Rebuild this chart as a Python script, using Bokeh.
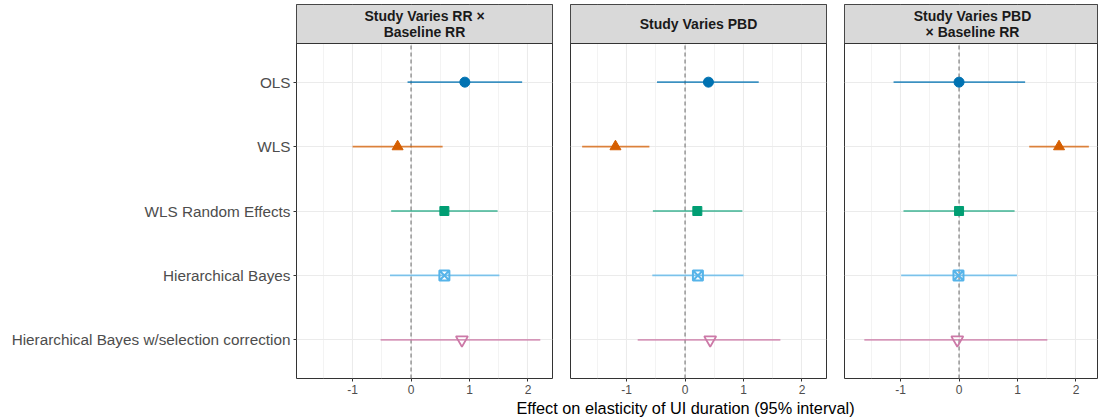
from bokeh.plotting import figure
from bokeh.models import ColumnDataSource, Range1d, FixedTicker
from bokeh.layouts import row, column
from bokeh.embed import file_html
from bokeh.resources import INLINE
from bokeh.core.properties import value

# ---------------- data ----------------
methods = ["OLS", "WLS", "WLS Random Effects", "Hierarchical Bayes",
           "Hierarchical Bayes w/selection correction"]
panel_titles = ["Study Varies RR ×\nBaseline RR", "Study Varies PBD",
                "Study Varies PBD\n× Baseline RR"]
colors = ["#0072B2", "#D55E00", "#009E73", "#56B4E9", "#CC79A7"]
markers = ["circle", "triangle", "square", "square_x", "inverted_triangle"]

est_rr = [0.92, -0.23, 0.57, 0.57, 0.87]
lo_rr = [-0.06, -1.00, -0.34, -0.36, -0.52]
hi_rr = [1.90, 0.54, 1.48, 1.51, 2.21]

est_pbd = [0.40, -1.19, 0.21, 0.22, 0.43]
lo_pbd = [-0.48, -1.76, -0.55, -0.56, -0.81]
hi_pbd = [1.26, -0.61, 0.98, 1.00, 1.63]

est_pbdrr = [0.00, 1.71, 0.00, -0.01, -0.03]
lo_pbdrr = [-1.12, 1.20, -0.95, -0.99, -1.62]
hi_pbdrr = [1.13, 2.22, 0.95, 0.99, 1.51]

x_ticks = [-1, 0, 1, 2]
x_tick_labels = ["-1", "0", "1", "2"]
x_minor = [-1.5, -0.5, 0.5, 1.5]
ref_x = [0]
x_title = "Effect on elasticity of UI duration (95% interval)"

# ---------------- styling ----------------
FONT = "Liberation Sans"
n = len(methods)
ypos = [n - i for i in range(n)]          # OLS at top
y_lo, y_hi = 0.4, n + 0.6
panel_px = 335
header_px = 39
unit = panel_px / (y_hi - y_lo)
y_top = y_hi + header_px / unit

all_lo = min(lo_rr + lo_pbd + lo_pbdrr)
all_hi = max(hi_rr + hi_pbd + hi_pbdrr)
pad = 0.05 * (all_hi - all_lo)
x_start, x_end = all_lo - pad, all_hi + pad

fill_alpha = [1, 1, 1, 0, 0]
line_w = [1, 1, 1, 2, 1.8]
sizes = [10, 11, 9, 10, 12]

panels = [(est_rr, lo_rr, hi_rr), (est_pbd, lo_pbd, hi_pbd),
          (est_pbdrr, lo_pbdrr, hi_pbdrr)]

FW = 256
figs = []
for k, (est, lo, hi) in enumerate(panels):
    first = k == 0
    last = k == len(panels) - 1
    fw = 253 if last else FW
    xe = x_start + (x_end - x_start) * fw / FW
    p = figure(frame_width=fw, frame_height=panel_px + header_px,
               min_border_left=296 if first else 9,
               min_border_right=1 if last else 9,
               min_border_top=4, min_border_bottom=18,
               x_range=Range1d(x_start, xe), y_range=Range1d(y_lo, y_top),
               output_backend="svg", toolbar_location=None,
               background_fill_color="white", border_fill_color="white",
               outline_line_color="#333333", outline_line_width=1)

    # grid
    p.xgrid.ticker = FixedTicker(ticks=x_ticks, minor_ticks=x_minor)
    p.xgrid.grid_line_color = "#ebebeb"
    p.xgrid.grid_line_width = 1.1
    p.xgrid.minor_grid_line_color = "#ebebeb"
    p.xgrid.minor_grid_line_width = 0.6
    p.ygrid.ticker = FixedTicker(ticks=ypos)
    p.ygrid.grid_line_color = "#ebebeb"
    p.ygrid.grid_line_width = 1.1

    # reference line at zero
    p.segment(x0=ref_x, y0=[y_lo], x1=ref_x, y1=[y_hi],
              line_color="#7f7f7f", line_width=1.2, line_dash="4 3")

    src = ColumnDataSource(dict(y=ypos, est=est, lo=lo, hi=hi, color=colors,
                                marker=markers, fa=fill_alpha, lw=line_w,
                                size=sizes))
    p.segment(x0="lo", y0="y", x1="hi", y1="y", source=src,
              line_color="color", line_width=1.6, line_alpha=0.75)
    p.scatter(x="est", y="y", source=src, marker="marker", size="size",
              fill_color="color", fill_alpha="fa", line_color="color",
              line_width="lw")

    # strip header
    p.quad(left=[x_start], right=[xe], bottom=[y_hi], top=[y_top],
           fill_color="#d9d9d9", line_color="#333333", line_width=1)
    p.text(x=[(x_start + x_end) / 2], y=[(y_hi + y_top) / 2],
           text=[panel_titles[k]], text_align="center",
           text_baseline="middle", text_font=value(FONT),
           text_font_size="14px", text_font_style="bold",
           text_color="#1a1a1a", text_line_height=1.05)

    # x axis
    xa = p.xaxis[0]
    xa.ticker = FixedTicker(ticks=x_ticks)
    xa.major_label_overrides = {t: s for t, s in zip(x_ticks, x_tick_labels)}
    xa.axis_line_color = None
    xa.major_tick_line_color = "#333333"
    xa.major_tick_out = 3
    xa.major_tick_in = 0
    xa.minor_tick_line_color = None
    xa.major_label_text_font = FONT
    xa.major_label_text_font_size = "12px"
    xa.major_label_text_color = "#4d4d4d"
    xa.major_label_standoff = 3

    # y axis
    ya = p.yaxis[0]
    if first:
        ya.ticker = FixedTicker(ticks=ypos)
        ya.major_label_overrides = {y: m for y, m in zip(ypos, methods)}
        ya.axis_line_color = None
        ya.major_tick_line_color = "#333333"
        ya.major_tick_out = 3
        ya.major_tick_in = 0
        ya.minor_tick_line_color = None
        ya.major_label_text_font = FONT
        ya.major_label_text_font_size = "15.3px"
        ya.major_label_text_color = "#4d4d4d"
        ya.major_label_standoff = 3
    else:
        ya.visible = False
    figs.append(p)

# axis title strip below the panels
t = figure(width=1098, height=22, x_range=Range1d(0, 1098),
           y_range=Range1d(0, 22), output_backend="svg",
           toolbar_location=None, min_border=0,
           outline_line_color=None, background_fill_color="white",
           border_fill_color="white")
t.axis.visible = False
t.grid.visible = False
t.text(x=[685], y=[11], text=[x_title], text_align="center",
       text_baseline="middle", text_font=value(FONT),
       text_font_size="16.3px", text_color="#000000")

layout = column(row(*figs), t)
open("out.html", "w").write(file_html(layout, INLINE))
